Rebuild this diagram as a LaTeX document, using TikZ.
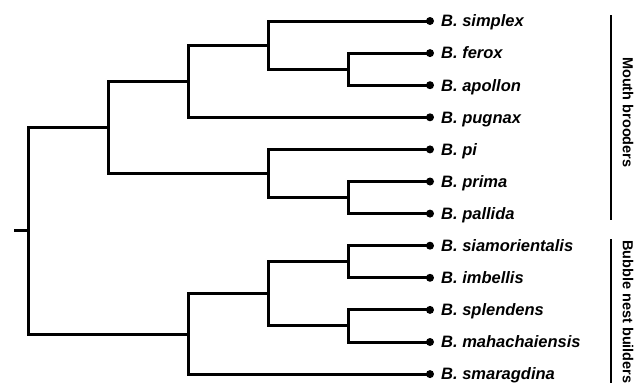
\documentclass[tikz,border=0pt]{standalone}
\usepackage{fontspec}
\setmainfont{Liberation Sans}
\begin{document}
\begin{tikzpicture}[x=1pt,y=-1pt,
  branch/.style={line width=3pt, line join=miter, black},
  leafdot/.style={circle, fill=black, minimum size=8pt, inner sep=0pt},
  leaflabel/.style={anchor=base west, inner sep=0pt, font=\fontsize{16.5}{19}\selectfont\bfseries\itshape},
  bracket/.style={line width=1.3pt, black},
  grouplabel/.style={anchor=west, rotate=-90, inner sep=0pt, font=\fontsize{14.5}{17}\selectfont\bfseries}]
\useasboundingbox (0,0) rectangle (638,383);
% leaves
\foreach \nm/\yy/\txt in {simplex/21/simplex, ferox/53.1/ferox, apollon/85.2/apollon, pugnax/117.3/pugnax, pi/149.4/pi, prima/181.5/prima, pallida/213.6/pallida, siam/245.7/siamorientalis, imbellis/277.8/imbellis, splendens/309.9/splendens, mahach/342/mahachaiensis, smarag/374.1/smaragdina}{
  \node[leafdot] (\nm) at (430,\yy) {};
  \node[leaflabel] (\nm L) at (441,\yy+5.8) {B. \txt};
}
% internal nodes
\coordinate (nfa) at (348,69.15);
\coordinate (nsfa) at (268,45.1);
\coordinate (nsfap) at (188,81.2);
\coordinate (npp) at (348,197.55);
\coordinate (npipp) at (268,173.5);
\coordinate (nmb) at (108,127.35);
\coordinate (nsi) at (348,261.75);
\coordinate (nsm) at (348,325.95);
\coordinate (nfour) at (268,293.85);
\coordinate (nbn) at (188,334);
\coordinate (root) at (28,230.7);
\coordinate (stub) at (14,230.7);
% branches
\draw[branch] (stub) -- (root);
\draw[branch] (root) |- (nmb);
\draw[branch] (root) |- (nbn);
\draw[branch] (nmb) |- (nsfap);
\draw[branch] (nmb) |- (npipp);
\draw[branch] (nsfap) |- (nsfa);
\draw[branch] (nsfap) |- (pugnax.center);
\draw[branch] (nsfa) |- (simplex.center);
\draw[branch] (nsfa) |- (nfa);
\draw[branch] (nfa) |- (ferox.center);
\draw[branch] (nfa) |- (apollon.center);
\draw[branch] (npipp) |- (pi.center);
\draw[branch] (npipp) |- (npp);
\draw[branch] (npp) |- (prima.center);
\draw[branch] (npp) |- (pallida.center);
\draw[branch] (nbn) |- (nfour);
\draw[branch] (nbn) |- (smarag.center);
\draw[branch] (nfour) |- (nsi);
\draw[branch] (nfour) |- (nsm);
\draw[branch] (nsi) |- (siam.center);
\draw[branch] (nsi) |- (imbellis.center);
\draw[branch] (nsm) |- (splendens.center);
\draw[branch] (nsm) |- (mahach.center);
% group brackets
\coordinate (mbTop) at (611,15);
\coordinate (mbBot) at (611,220);
\coordinate (bnTop) at (611,239);
\coordinate (bnBot) at (611,390);
\draw[bracket] (mbTop) -- (mbBot);
\draw[bracket] (bnTop) -- (bnBot);
\node[grouplabel] (mbL) at (628,57) {Mouth brooders};
\node[grouplabel] (bnL) at (628,240) {Bubble nest builders};
\end{tikzpicture}
\end{document}
